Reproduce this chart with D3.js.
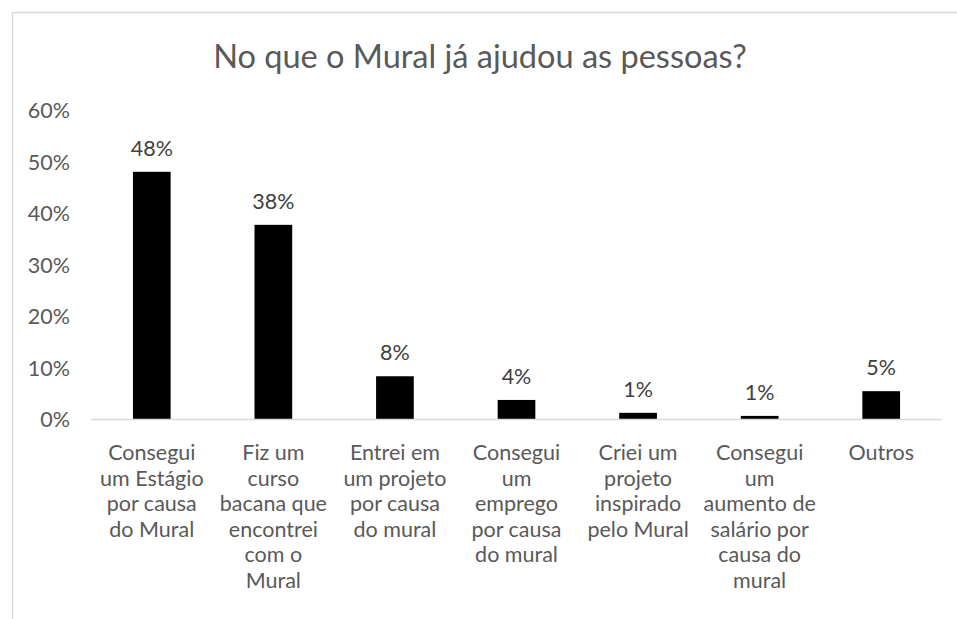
<!DOCTYPE html>
<html>
<head>
<meta charset="utf-8">
<script src="https://cdn.jsdelivr.net/npm/d3@7"></script>
<style>
  body { margin: 0; background: #fff; }
  svg text { font-family: Lato, "Open Sans", sans-serif; }
</style>
</head>
<body>
<div id="chart"></div>
<script>
// category labels, already broken into lines as in the original
var categories = [
    ["Consegui", "um Estágio", "por causa", "do Mural"],
    ["Fiz um", "curso", "bacana que", "encontrei", "com o", "Mural"],
    ["Entrei em", "um projeto", "por causa", "do mural"],
    ["Consegui", "um", "emprego", "por causa", "do mural"],
    ["Criei um", "projeto", "inspirado", "pelo Mural"],
    ["Consegui", "um", "aumento de", "salário por", "causa do", "mural"],
    ["Outros"]
];
var values = [0.48, 0.377, 0.083, 0.037, 0.012, 0.006, 0.054];
var valueLabels = ["48%", "38%", "8%", "4%", "1%", "1%", "5%"];
var yTicks = [0, 0.1, 0.2, 0.3, 0.4, 0.5, 0.6];

var W = 957, H = 619;
var margin = {top: 110, right: 15, bottom: 200, left: 91};
var width = W - margin.left - margin.right;
var height = H - margin.top - margin.bottom;

var root = d3.select("#chart").append("svg").attr("width", W).attr("height", H);

// chart area border (cut off on the right and bottom in the original)
root.append("rect").attr("x", 12.5).attr("y", 12.5).attr("width", 1000).attr("height", 1000)
    .attr("fill", "none").attr("stroke", "#d9d9d9").attr("stroke-width", 1.5);

root.append("text").attr("x", 480).attr("y", 68).attr("text-anchor", "middle")
    .style("font-size", "32.5px").style("fill", "#595959")
    .text("No que o Mural já ajudou as pessoas?");

var svg = root.append("g").attr("transform", "translate(" + margin.left + "," + margin.top + ")");

var x = d3.scaleBand().domain(d3.range(categories.length)).range([0, width]).paddingInner(0.69).paddingOuter(0.345);
var y = d3.scaleLinear().domain([0, 0.6]).range([height, 0]);

// Y axis labels only (no line, no gridlines)
var yAxis = svg.append("g")
    .call(d3.axisLeft(y).tickValues(yTicks).tickFormat(d3.format(".0%")).tickSize(0).tickPadding(21));
yAxis.select(".domain").remove();
yAxis.selectAll("text").style("font-size", "21.5px").style("fill", "#595959").attr("dy", "0.35em");

// bars
svg.selectAll(".bar").data(values).enter().append("rect").attr("class", "bar")
    .attr("x", function (d, i) { return x(i); })
    .attr("y", function (d) { return y(d); })
    .attr("width", x.bandwidth())
    .attr("height", function (d) { return height - y(d); })
    .style("fill", "#000");

// baseline
svg.append("line").attr("x1", 0).attr("x2", width).attr("y1", height + 0.5).attr("y2", height + 0.5)
    .attr("stroke", "#d9d9d9").attr("stroke-width", 1.5);

// value labels
svg.selectAll(".vlabel").data(values).enter().append("text").attr("class", "vlabel")
    .attr("x", function (d, i) { return x(i) + x.bandwidth() / 2; })
    .attr("y", function (d) { return y(d) - 16; })
    .attr("text-anchor", "middle")
    .style("font-size", "21.5px").style("fill", "#404040")
    .text(function (d, i) { return valueLabels[i]; });

// category labels
var cat = svg.selectAll(".cat").data(categories).enter().append("text").attr("class", "cat")
    .attr("text-anchor", "middle")
    .attr("transform", function (d, i) { return "translate(" + (x(i) + x.bandwidth() / 2) + "," + (height + 41) + ")"; })
    .style("font-size", "21.5px").style("fill", "#595959");
cat.selectAll("tspan").data(function (d) { return d; }).enter().append("tspan")
    .attr("x", 0).attr("y", function (d, i) { return i * 25.5; })
    .text(function (d) { return d; });
</script>
</body>
</html>
